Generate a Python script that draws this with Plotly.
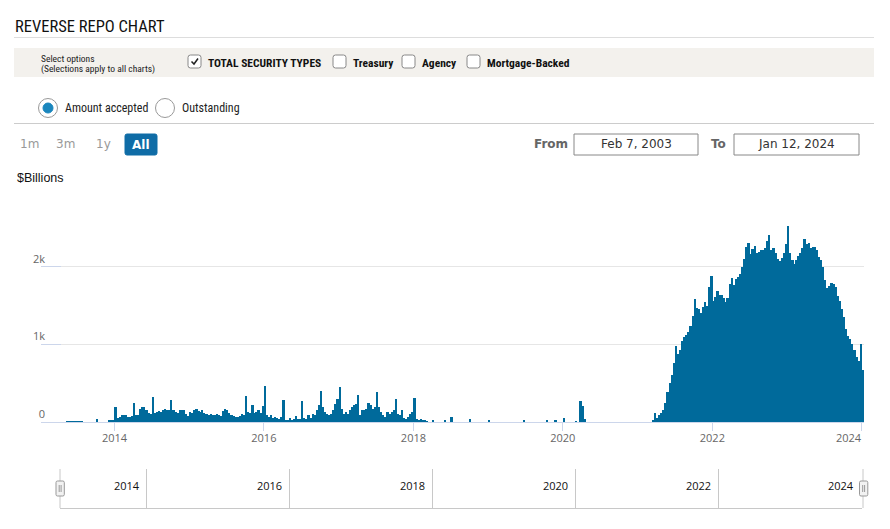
import plotly.graph_objects as go
import pandas as pd

# The page places the figure 8px from the window edges.
OFF = 8
W, H = 890 - 2 * OFF, 529 - 2 * OFF

# Reverse repo amount accepted, $ billions.
# Each year: 36 ten-day bins (month split at day 1, 11, 21).
y2013 = [0, 0, 0, 0, 0, 0, 0, 0, 0, 0, 0, 0,
         0, 12, 12, 12, 12, 12, 12, 12, 12, 0, 0, 0,
         0, 0, 0, 43, 0, 0, 0, 0, 0, 17, 22, 26]
y2014 = [189, 55, 70, 85, 95, 90, 70, 60, 80, 240, 85, 95,
         170, 190, 195, 150, 110, 105, 326, 120, 125, 140, 125, 155,
         165, 160, 150, 287, 150, 130, 110, 160, 160, 150, 100, 80]
y2015 = [130, 120, 150, 165, 140, 130, 150, 120, 100, 95, 105, 90,
         90, 100, 95, 80, 140, 165, 150, 110, 90, 75, 65, 60,
         80, 105, 90, 340, 130, 120, 220, 110, 130, 150, 110, 200]
y2016 = [468, 85, 65, 95, 50, 65, 50, 35, 65, 287, 20, 20,
         50, 20, 45, 75, 35, 45, 275, 50, 45, 85, 50, 105,
         85, 150, 215, 400, 190, 130, 105, 85, 105, 150, 235, 300]
y2017 = [455, 170, 105, 130, 105, 150, 190, 215, 235, 343, 85, 150,
         150, 170, 245, 215, 170, 190, 390, 190, 130, 85, 65, 130,
         105, 130, 150, 300, 105, 85, 160, 50, 35, 65, 105, 130]
y2018 = [313, 45, 13, 35, 20, 17, 10, 0, 0, 15, 0, 0,
         0, 0, 0, 15, 0, 0, 70, 0, 0, 0, 0, 0,
         0, 0, 0, 40, 0, 0, 0, 0, 0, 0, 0, 0]
y2019 = [26, 0, 0, 0, 0, 0, 0, 0, 0, 0, 0, 0,
         0, 0, 0, 0, 0, 26, 0, 0, 0, 0, 0, 0,
         0, 0, 0, 0, 17, 0, 0, 0, 17, 0, 0, 0]
y2020 = [52, 0, 0, 0, 0, 0, 12, 0, 275, 200, 40, 0,
         0, 0, 0, 0, 0, 0, 0, 0, 0, 0, 0, 0,
         0, 0, 0, 0, 0, 0, 0, 0, 0, 0, 0, 0]
y2021 = [0, 0, 0, 0, 0, 0, 0, 20, 110, 50, 90, 115,
         160, 250, 380, 500, 600, 760, 980, 870, 930, 1040, 1100, 1120,
         1160, 1240, 1360, 1585, 1465, 1460, 1400, 1485, 1550, 1490, 1740, 1880]
y2022 = [1560, 1610, 1690, 1640, 1635, 1600, 1540, 1600, 1775, 1850, 1760, 1840,
         1870, 1900, 2000, 2100, 2255, 2310, 2160, 2230, 2270, 2170, 2190, 2220,
         2215, 2240, 2335, 2405, 2215, 2240, 2180, 2095, 2070, 2110, 2170, 2290]
y2023 = [2520, 2170, 2080, 2035, 2090, 2140, 2180, 2240, 2350, 2290, 2300, 2235,
         2255, 2250, 2220, 2120, 2080, 2000, 1830, 1720, 1750, 1785, 1775, 1740,
         1620, 1560, 1460, 1350, 1200, 1110, 1070, 1000, 930, 840, 780, 1005]
y2024 = [670]

years = [2013, 2014, 2015, 2016, 2017, 2018, 2019, 2020, 2021, 2022, 2023, 2024]
series = [y2013, y2014, y2015, y2016, y2017, y2018, y2019, y2020, y2021, y2022, y2023, y2024]

y_tickvals = [0, 1000, 2000, 3000]
y_ticktext = ["0", "1k", "2k", ""]
x_tick_years = ["2014", "2016", "2018", "2020", "2022", "2024"]
nav_years = ["2014", "2016", "2018", "2020", "2022", "2024"]

range_start = pd.Timestamp("2013-01-07")
range_end = pd.Timestamp("2024-01-12")

dates, values = [], []
for yr, vals in zip(years, series):
    for i, v in enumerate(vals):
        dates.append(pd.Timestamp(yr, i // 3 + 1, [1, 11, 21][i % 3]))
        values.append(v)
edges = dates[1:] + [range_end]
day_ms = 86400000.0
widths = [(b - a).total_seconds() * 1000 + 0.6 * day_ms for a, b in zip(dates, edges)]

BAR = "#006a9b"

fig = go.Figure()
fig.add_trace(go.Bar(x=dates, y=values, width=widths, offset=0,
                     marker=dict(color=BAR, line=dict(width=0)),
                     xaxis="x", yaxis="y", showlegend=False, hoverinfo="x+y"))


def px(x):
    return (x - OFF) / W


def py(y):
    return 1 - (y - OFF) / H


shapes, anns = [], []

COND = "Liberation Sans Narrow, Roboto Condensed, Arial Narrow, Roboto, sans-serif"


def text(x, y, s, size, color="#222", family=COND, anchor="left", bold=False):
    if bold:
        s = "<b>" + s + "</b>"
    anns.append(dict(x=px(x), y=py(y), xref="paper", yref="paper", text=s,
                     showarrow=False, xanchor=anchor, yanchor="middle",
                     font=dict(size=size, color=color, family=family)))


def rect(x0, y0, x1, y1, fill="rgba(0,0,0,0)", line="#999", lw=1):
    shapes.append(dict(type="rect", xref="paper", yref="paper",
                       x0=px(x0), x1=px(x1), y0=py(y1), y1=py(y0),
                       fillcolor=fill, line=dict(color=line, width=lw), layer="above"))


def hline(x0, x1, y, color="#ddd", lw=1):
    shapes.append(dict(type="line", xref="paper", yref="paper",
                       x0=px(x0), x1=px(x1), y0=py(y), y1=py(y),
                       line=dict(color=color, width=lw), layer="above"))


def vline(x, y0, y1, color="#ccc", lw=1):
    shapes.append(dict(type="line", xref="paper", yref="paper",
                       x0=px(x), x1=px(x), y0=py(y0), y1=py(y1),
                       line=dict(color=color, width=lw), layer="above"))


def rrect(x0, y0, x1, y1, r, fill="white", line="#999", lw=1):
    p = (f"M {px(x0 + r)},{py(y0)} L {px(x1 - r)},{py(y0)} "
         f"Q {px(x1)},{py(y0)} {px(x1)},{py(y0 + r)} L {px(x1)},{py(y1 - r)} "
         f"Q {px(x1)},{py(y1)} {px(x1 - r)},{py(y1)} L {px(x0 + r)},{py(y1)} "
         f"Q {px(x0)},{py(y1)} {px(x0)},{py(y1 - r)} L {px(x0)},{py(y0 + r)} "
         f"Q {px(x0)},{py(y0)} {px(x0 + r)},{py(y0)} Z")
    shapes.append(dict(type="path", xref="paper", yref="paper", path=p,
                       fillcolor=fill, line=dict(color=line, width=lw), layer="above"))


def circle(cx, cy, r, fill="white", line="#999", lw=1):
    shapes.append(dict(type="circle", xref="paper", yref="paper",
                       x0=px(cx - r), x1=px(cx + r), y0=py(cy + r), y1=py(cy - r),
                       fillcolor=fill, line=dict(color=line, width=lw), layer="above"))


# Title
text(13, 26, "REVERSE REPO CHART", 16.5, "#111")
hline(14, 874, 37.5, "#dddddd")

# Options band
rect(14, 48, 874, 77, fill="#f3f1ed", line="#f3f1ed", lw=0)
text(39, 58.5, "Select options", 9.5, "#222")
text(39, 68.5, "(Selections apply to all charts)", 9.5, "#222")
checks = [(188, "TOTAL SECURITY TYPES", True), (333, "Treasury", False),
          (402, "Agency", False), (467, "Mortgage-Backed", False)]
for cx0, lab, on in checks:
    rrect(cx0, 55, cx0 + 13, 68, 2.5, fill="white", line="#888")
    text(cx0 + 18, 63, lab, 11.5, "#111", bold=True)
    if on:
        p = (f"M {px(cx0 + 3.5)},{py(61.5)} L {px(cx0 + 6)},{py(64)} "
             f"L {px(cx0 + 10)},{py(58.5)}")
        shapes.append(dict(type="path", xref="paper", yref="paper", path=p,
                           line=dict(color="#222", width=1.5), layer="above"))

# Radio buttons
circle(48, 108, 9.5, fill="white", line="#999")
circle(48, 108, 5, fill="#1a86bd", line="#1a86bd")
text(63, 108, "Amount accepted", 12, "#222")
circle(165, 108, 9.5, fill="white", line="#999")
text(180, 108, "Outstanding", 12, "#222")
hline(14, 874, 123.5, "#cccccc")

# Range selector
MONO = "DejaVu Sans, Open Sans, sans-serif"
text(29, 144, "1m", 12, "#999", MONO, anchor="center")
text(66, 144, "3m", 12, "#999", MONO, anchor="center")
text(103, 144, "1y", 12, "#999", MONO, anchor="center")
rrect(125, 134, 157, 155, 2, fill="#0f6ca6", line="#0f6ca6")
text(141, 144.5, "All", 12, "white", MONO, anchor="center", bold=True)

text(551, 144, "From", 12, "#666", MONO, anchor="center", bold=True)
rect(574, 134, 698, 155, fill="white", line="#888")
text(636, 144, "Feb 7, 2003", 12, "#333", MONO, anchor="center")
text(718, 144, "To", 12, "#666", MONO, anchor="center", bold=True)
rect(734, 134, 859, 155, fill="white", line="#888")
text(796.5, 144, "Jan 12, 2024", 12, "#333", MONO, anchor="center")

# Axis title
text(15, 178, "$Billions", 12.5, "#111", "Liberation Sans, Arial, sans-serif")

TICKFONT = dict(size=11, color="#666666", family="Open Sans, sans-serif")

# X tick labels: last one is pushed left to stay inside the plot (as in the source)
x_tickvals = [pd.Timestamp(int(y), 1, 1) for y in x_tick_years]
x_ticktext = x_tick_years[:-1] + [""]
anns.append(dict(x=x_tickvals[-1], y=py(437), xref="x", yref="paper",
                 text=x_tick_years[-1], showarrow=False, xanchor="right",
                 yanchor="middle", xshift=2, font=TICKFONT))

# Navigator
NAV_TOP, NAV_BOT = 469, 508
vline(60, NAV_TOP, NAV_BOT, "#c8c8c8")
vline(863, NAV_TOP, NAV_BOT, "#c8c8c8")
for lab in nav_years:
    anns.append(dict(x=pd.Timestamp(int(lab), 1, 1), y=py(485), xref="x2", yref="paper",
                     text=lab, showarrow=False, xanchor="right", yanchor="middle",
                     xshift=-5, font=dict(size=11, color="#111", family="Open Sans, sans-serif")))
for hx in (56, 859.5):
    rrect(hx, 481, hx + 8.3, 496, 1.5, fill="#f2f2f2", line="#999")
    vline(hx + 3.2, 485, 492, "#999")
    vline(hx + 5.1, 485, 492, "#999")

fig.update_layout(
    width=W, height=H, autosize=False,
    margin=dict(l=0, r=0, t=0, b=0, pad=0, autoexpand=False),
    paper_bgcolor="white", plot_bgcolor="white",
    showlegend=False, bargap=0,
    shapes=shapes, annotations=anns,
    xaxis=dict(domain=[px(41), px(864)], type="date",
               range=[range_start, range_end],
               tickmode="array", tickvals=x_tickvals, ticktext=x_ticktext,
               ticks="outside", ticklen=8, tickcolor="#ccd6eb", tickwidth=1,
               ticklabelstandoff=-3,
               showline=True, linecolor="#ccd6eb", linewidth=1,
               showgrid=False, zeroline=False, tickfont=TICKFONT,
               anchor="y", fixedrange=True, automargin=False),
    yaxis=dict(domain=[py(422.3), py(189.3)], range=[0, 3000],
               tickmode="array", tickvals=y_tickvals, ticktext=y_ticktext,
               ticks="inside", ticklen=20, tickcolor="#ccd6eb", tickwidth=1,
               showgrid=True, gridcolor="#e6e6e6", gridwidth=1,
               zeroline=False, showline=False,
               ticklabelposition="outside top", ticklabelstandoff=-5,
               tickfont=TICKFONT, anchor="x", fixedrange=True, automargin=False),
    xaxis2=dict(domain=[px(60), px(862)], type="date",
                range=[pd.Timestamp("2012-10-15"), pd.Timestamp("2024-01-06")],
                tick0="2014-01-01", dtick="M24",
                showgrid=True, gridcolor="#c8c8c8", gridwidth=1,
                showticklabels=False, ticks="",
                showline=True, linecolor="#c8c8c8", linewidth=1,
                zeroline=False, anchor="y2", fixedrange=True, automargin=False),
    yaxis2=dict(domain=[py(NAV_BOT), py(NAV_TOP)], range=[0, 1],
                showgrid=False, showticklabels=False, zeroline=False,
                showline=False, anchor="x2", fixedrange=True, automargin=False),
)

fig.write_html("out.html")
